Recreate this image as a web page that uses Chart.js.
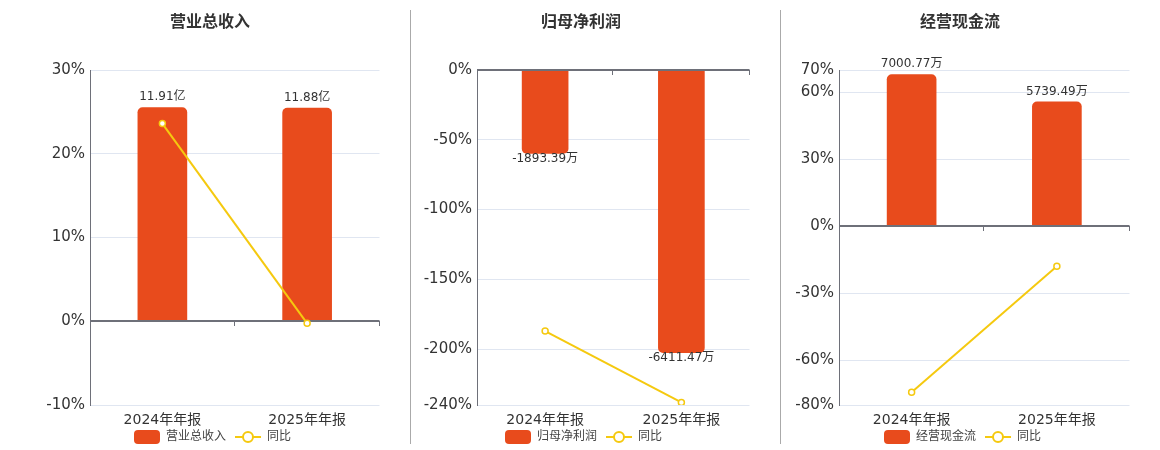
<!DOCTYPE html>
<html>
<head>
<meta charset="utf-8">
<script src="https://cdn.jsdelivr.net/npm/chart.js@4.4.1/dist/chart.umd.min.js"></script>
<style>
body { margin: 0; background: #fff; width: 1160px; height: 450px; position: relative; overflow: hidden; }
canvas { position: absolute; top: 0; }
.sep { position: absolute; top: 10px; width: 1px; height: 434px; background: #aaa; }
</style>
</head>
<body>
<canvas id="c1" width="385" height="453" style="left:0px"></canvas>
<canvas id="c2" width="343" height="453" style="left:412px"></canvas>
<canvas id="c3" width="353" height="453" style="left:782px"></canvas>
<div class="sep" style="left:410px"></div>
<div class="sep" style="left:780px"></div>
<script>
// data
const categories = ['2024年年报', '2025年年报'];

const revenueValues = [11.91, 11.88];        // 亿
const revenueYoY = [23.6, -0.25];            // %
const revenueTicks = [30, 20, 10, 0, -10];

const profitValues = [-1893.39, -6411.47];   // 万
const profitYoY = [-187, -238.2];
const profitTicks = [0, -50, -100, -150, -200, -240];

const cashValues = [7000.77, 5739.49];       // 万
const cashYoY = [-74.3, -17.9];
const cashTicks = [70, 60, 30, 0, -30, -60, -80];

const barColor = '#e84b1c';
const lineColor = '#f5c90f';
const axisColor = '#6e7079';
const FONT = '"DejaVu Sans", "Noto Sans CJK SC", sans-serif';

Chart.defaults.font.family = FONT;
Chart.defaults.color = '#333';

function barIcon() {
	const c = document.createElement('canvas');
	c.width = 31; c.height = 14;
	const g = c.getContext('2d');
	g.fillStyle = barColor;
	g.beginPath();
	g.roundRect(5, 0, 26, 14, 4);
	g.fill();
	return c;
}

function lineIcon() {
	const c = document.createElement('canvas');
	c.width = 31; c.height = 14;
	const g = c.getContext('2d');
	g.strokeStyle = lineColor;
	g.lineWidth = 2;
	g.beginPath();
	g.moveTo(5, 7); g.lineTo(31, 7);
	g.stroke();
	g.beginPath();
	g.arc(18, 7, 5, 0, Math.PI * 2);
	g.fillStyle = '#fff';
	g.fill();
	g.stroke();
	return c;
}

// value labels at the end of each bar
const barLabels = {
	id: 'barLabels',
	afterDatasetsDraw(chart, args, opts) {
		const meta = chart.getDatasetMeta(0);
		const values = chart.data.datasets[0].data;
		const ctx = chart.ctx;
		ctx.save();
		ctx.font = '12px ' + FONT;
		ctx.fillStyle = '#333';
		ctx.textAlign = 'center';
		ctx.textBaseline = 'middle';
		meta.data.forEach((bar, i) => {
			const y = values[i] >= 0 ? bar.y - 10.5 : bar.y + 5;
			ctx.fillText(values[i].toFixed(2) + opts.unit, bar.x, y);
		});
		ctx.restore();
	}
};

// zero axis line with small ticks between categories, drawn over the bars
const zeroAxis = {
	id: 'zeroAxis',
	afterDatasetDraw(chart, args) {
		if (args.index !== 0) return;
		const xs = chart.scales.x, ys = chart.scales.y;
		const y0 = Math.round(ys.getPixelForValue(0));
		const half = (xs.getPixelForValue(1) - xs.getPixelForValue(0)) / 2;
		const ctx = chart.ctx;
		ctx.save();
		ctx.strokeStyle = axisColor;
		ctx.lineWidth = 2;
		ctx.beginPath();
		ctx.moveTo(chart.chartArea.left, y0);
		ctx.lineTo(chart.chartArea.right, y0);
		ctx.stroke();
		ctx.lineWidth = 1;
		ctx.beginPath();
		for (let i = 0; i < categories.length; i++) {
			const px = Math.round(xs.getPixelForValue(i) + half) - 0.5;
			ctx.moveTo(px, y0);
			ctx.lineTo(px, y0 + 5);
		}
		ctx.stroke();
		ctx.restore();
	}
};

function makeChart(id, title, name, bars, yoy, ticks, barRange, unit, pad, axisWidth, thickness) {
	new Chart(document.getElementById(id), {
		type: 'bar',
		data: {
			labels: categories,
			datasets: [{
				label: name,
				data: bars,
				yAxisID: 'yBar',
				backgroundColor: barColor,
				barThickness: thickness,
				borderRadius: 5,
				borderSkipped: 'start',
				order: 2
			}, {
				type: 'line',
				label: '同比',
				data: yoy,
				yAxisID: 'y',
				borderColor: lineColor,
				borderWidth: 2,
				pointRadius: 3,
				pointBorderWidth: 1.5,
				pointBackgroundColor: '#fff',
				pointBorderColor: lineColor,
				order: 1
			}]
		},
		options: {
			responsive: false,
			animation: false,
			layout: { padding: { left: pad[0], right: pad[1], top: 0, bottom: 0 } },
			scales: {
				x: {
					grid: { display: false, drawTicks: false },
					border: { display: false },
					afterFit: s => { s.height = 22 },
					ticks: { font: { size: 14, lineHeight: 1 }, color: '#333', padding: 8 }
				},
				y: {
					position: 'left',
					min: ticks[ticks.length - 1],
					max: ticks[0],
					afterBuildTicks: s => { s.ticks = ticks.map(v => ({ value: v })) },
					afterFit: s => { s.width = axisWidth },
					grid: {
						drawTicks: false,
						color: c => c.tick && c.tick.value === 0 ? axisColor : '#e0e6f1'
					},
					border: { display: true, color: axisColor, width: 1 },
					ticks: { font: { size: 15 }, color: '#333', padding: 5, callback: v => v + '%' }
				},
				yBar: {
					display: false,
					min: barRange[0],
					max: barRange[1]
				}
			},
			plugins: {
				title: {
					display: true,
					text: title,
					color: '#333',
					font: { size: 16, weight: 'bold' },
					padding: { top: 13, bottom: 37.8 }
				},
				legend: {
					position: 'bottom',
					labels: {
						usePointStyle: true,
						pointStyleWidth: 31,
						boxHeight: 14,
						padding: 4,
						color: '#444',
						font: { size: 12 },
						generateLabels: () => [
							{ text: name, pointStyle: barIcon(), datasetIndex: 0, lineWidth: 0, fontColor: '#444' },
							{ text: '同比', pointStyle: lineIcon(), datasetIndex: 1, lineWidth: 0, fontColor: '#444' }
						]
					}
				},
				tooltip: { enabled: false },
				barLabels: { unit: unit }
			}
		},
		plugins: [zeroAxis, barLabels]
	});
}

makeChart('c1', '营业总收入', '营业总收入', revenueValues, revenueYoY, revenueTicks, [-14 / 3, 14], '亿', [40, 5], 50, 49);
makeChart('c2', '归母净利润', '归母净利润', profitValues, profitYoY, profitTicks, [-7600, 0], '万', [0, 5], 65, 46);
makeChart('c3', '经营现金流', '经营现金流', cashValues, cashYoY, cashTicks, [-8240, 7210], '万', [8, 5], 49, 49);
</script>
</body>
</html>
